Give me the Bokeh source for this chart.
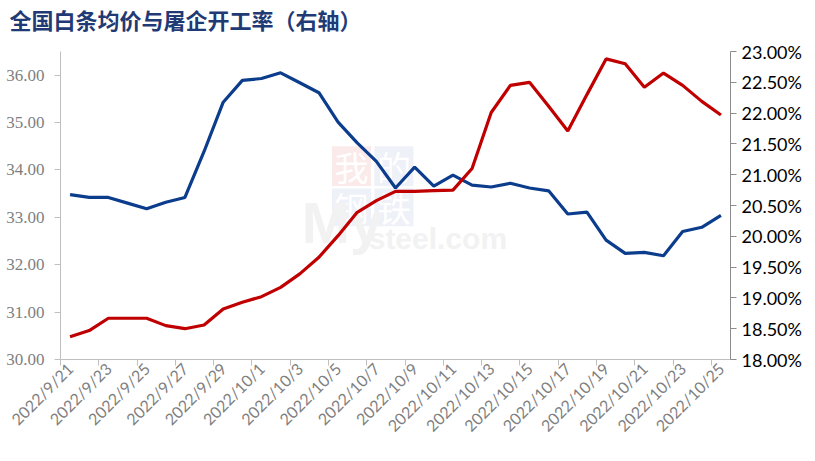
import math
from bokeh.plotting import figure
from bokeh.models import Range1d, LinearAxis, FixedTicker, PrintfTickFormatter, Title
from bokeh.embed import file_html
from bokeh.resources import INLINE
from bokeh.core.properties import value

dates = ["2022/9/21", "2022/9/22", "2022/9/23", "2022/9/24", "2022/9/25",
         "2022/9/26", "2022/9/27", "2022/9/28", "2022/9/29", "2022/9/30",
         "2022/10/1", "2022/10/2", "2022/10/3", "2022/10/4", "2022/10/5",
         "2022/10/6", "2022/10/7", "2022/10/8", "2022/10/9", "2022/10/10",
         "2022/10/11", "2022/10/12", "2022/10/13", "2022/10/14", "2022/10/15",
         "2022/10/16", "2022/10/17", "2022/10/18", "2022/10/19", "2022/10/20",
         "2022/10/21", "2022/10/22", "2022/10/23", "2022/10/24", "2022/10/25"]

# 全国白条均价 (left axis)
price = [33.48, 33.42, 33.42, 33.30, 33.18, 33.32, 33.42, 34.39, 35.43, 35.89,
         35.93, 36.05, 35.84, 35.63, 35.01, 34.57, 34.18, 33.62, 34.06, 33.66,
         33.89, 33.68, 33.64, 33.72, 33.62, 33.56, 33.07, 33.11, 32.52, 32.24,
         32.26, 32.19, 32.70, 32.79, 33.04]

# 屠企开工率 % (right axis)
rate = [18.37, 18.47, 18.67, 18.67, 18.67, 18.55, 18.50, 18.56, 18.82, 18.93,
        19.02, 19.17, 19.39, 19.66, 20.01, 20.39, 20.58, 20.73, 20.73, 20.74,
        20.75, 21.10, 22.01, 22.45, 22.50, 22.11, 21.71, 22.30, 22.88, 22.80,
        22.42, 22.65, 22.45, 22.19, 21.97]

left_ticks = [30, 31, 32, 33, 34, 35, 36]
right_ticks = [18.0, 18.5, 19.0, 19.5, 20.0, 20.5, 21.0, 21.5, 22.0, 22.5, 23.0]
title_text = "全国白条均价与屠企开工率（右轴）"

idx = list(range(len(dates)))

p = figure(frame_width=670, frame_height=308, output_backend="svg", toolbar_location=None,
           x_range=Range1d(-0.5, len(dates) - 0.5), y_range=Range1d(30, 36.5),
           min_border_left=60, min_border_right=70, min_border_top=50,
           min_border_bottom=80)
p.extra_y_ranges = {"r": Range1d(18, 23)}
p.outline_line_color = None
p.xgrid.visible = False
p.ygrid.visible = False
p.background_fill_color = "white"
p.border_fill_color = "white"

# small spacer between the frame and the title
p.add_layout(Title(text=" ", text_font_size="1px", standoff=14), "above")

p.title.text = title_text
p.title.align = "left"
p.title.offset = -51
p.title.standoff = 0
p.title.text_font = "Noto Sans CJK SC"
p.title.text_font_size = "22px"
p.title.text_font_style = "bold"
p.title.text_color = "#1F3A75"

# watermark (Mysteel logo)
p.rect(x=[14.7, 16.92, 14.7, 16.92], y=[34.08, 34.08, 33.21, 33.21],
       width=2.04, height=[0.84, 0.84, 0.8, 0.8],
       fill_color=["#FBEAEA", "#EEF1F8", "#EEF1F8", "#EEF1F8"], line_color=None)
p.text(x=[14.7, 16.92, 14.7, 16.92], y=[34.08, 34.08, 33.21, 33.21],
       text=["我", "的", "钢", "铁"], text_font=value("Noto Sans CJK SC"),
       text_font_size="34px", text_color="#FFFFFF", text_align="center",
       text_baseline="middle")
p.text(x=[12.1], y=[32.2], text=["My"], text_font=value("Liberation Sans"),
       text_font_size="58px", text_font_style="bold", text_color="#F2F2F2")
p.text(x=[15.6], y=[32.2], text=["steel.com"], text_font=value("Liberation Sans"),
       text_font_size="30px", text_font_style="bold", text_color="#F2F2F2")

# x axis
xa = p.xaxis[0]
xa.ticker = FixedTicker(ticks=idx[::2], minor_ticks=[i - 0.5 for i in idx[::2]])
xa.major_label_overrides = {i: dates[i] for i in idx[::2]}
xa.major_label_orientation = math.pi / 4
xa.major_tick_line_color = None
xa.major_tick_out = 0
xa.major_tick_in = 0
xa.minor_tick_out = 6
xa.minor_tick_in = 0
xa.minor_tick_line_color = "#BFBFBF"
xa.axis_line_color = "#BFBFBF"
xa.major_label_text_font = "Lato"
xa.major_label_text_font_size = "16px"
xa.major_label_text_color = "#7F7F7F"
xa.major_label_standoff = 0

# left axis
ya = p.yaxis[0]
ya.ticker = FixedTicker(ticks=left_ticks)
ya.formatter = PrintfTickFormatter(format="%.2f")
ya.minor_tick_line_color = None
ya.major_tick_in = 0
ya.major_tick_out = 6
ya.major_tick_line_color = "#BFBFBF"
ya.axis_line_color = "#BFBFBF"
ya.major_label_text_font = "Liberation Serif"
ya.major_label_text_font_size = "17px"
ya.major_label_text_color = "#7F7F7F"
ya.major_label_standoff = 10

# right axis
ra = LinearAxis(y_range_name="r", ticker=FixedTicker(ticks=right_ticks),
                formatter=PrintfTickFormatter(format="%.2f%%"))
ra.minor_tick_line_color = None
ra.major_tick_in = 0
ra.major_tick_out = 6
ra.major_tick_line_color = "#8C8C8C"
ra.axis_line_color = "#8C8C8C"
ra.major_label_text_font = "Lato"
ra.major_label_text_font_size = "18px"
ra.major_label_text_color = "#000000"
ra.major_label_standoff = 5
p.add_layout(ra, "right")

p.line(idx, price, line_color="#0B3D8C", line_width=3.2)
p.line(idx, rate, y_range_name="r", line_color="#C00000", line_width=3.2)

open("out.html", "w").write(file_html(p, INLINE))
